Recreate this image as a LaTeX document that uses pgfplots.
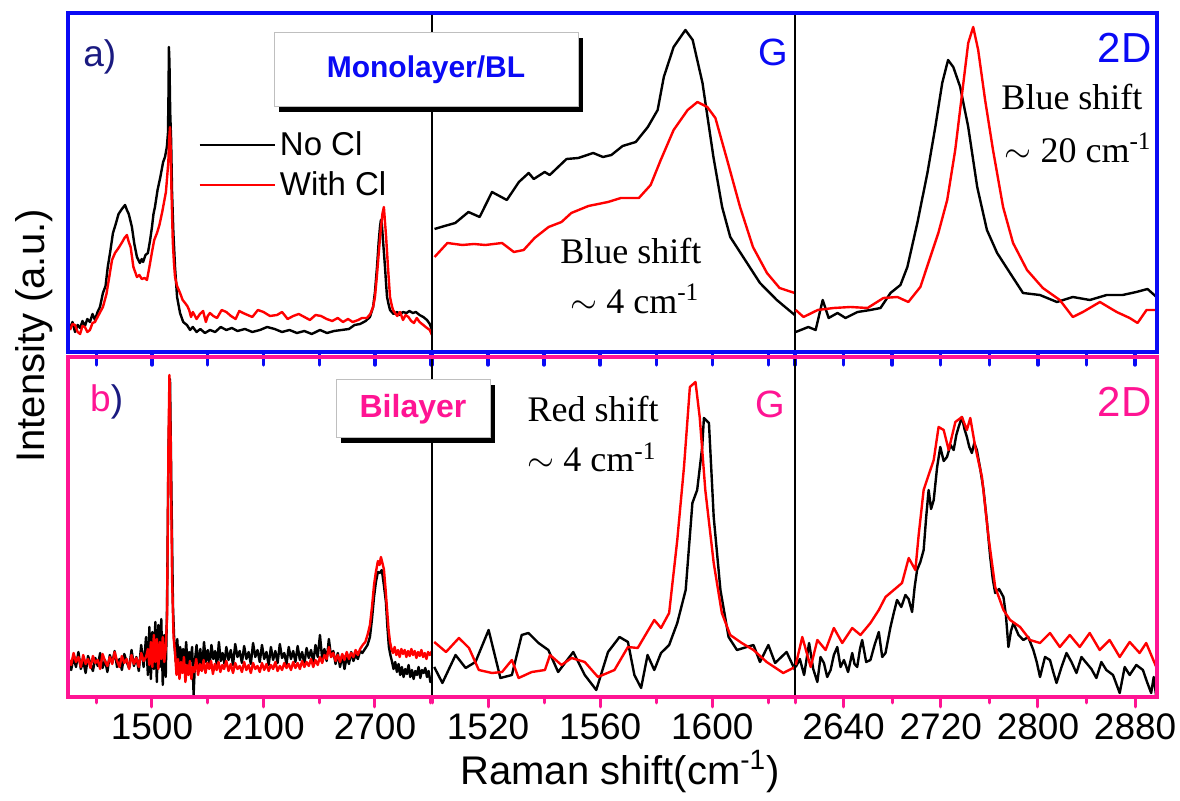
\documentclass[border=0pt]{standalone}
\usepackage{fontspec}
\setmainfont{Liberation Sans}
\newfontfamily\seriffont{Liberation Serif}
\usepackage{pgfplots}
\pgfplotsset{compat=1.18}
\usetikzlibrary{shadows}
\definecolor{frameblue}{HTML}{0A0AF5}
\definecolor{framepink}{HTML}{FF1493}
\definecolor{navy}{HTML}{1A1A80}
\definecolor{specred}{HTML}{FF0000}

\tikzset{ann/.style={inner sep=0pt, font=\seriffont\fontsize{18}{20}\selectfont}}

\pgfplotsset{
  panel/.style={
    scale only axis, height=169.5pt, ymin=0,
    ytick=\empty,
    axis line style={black, line width=0.6pt},
    xtick pos=left, xtick align=outside,
    major tick length=5pt, minor tick length=3pt,
    tick label style={font=\fontsize{18.5}{20}\selectfont},
    /pgf/number format/assume math mode=true,
    /pgf/number format/set thousands separator={},
    scaled x ticks=false,
    every axis plot/.append style={line width=1.2pt, line join=round},
  },
  toprow/.style={panel, ymax=339, xticklabels={},
    x tick style={frameblue, line width=1.7pt, line cap=round},
    major tick length=6.5pt, minor tick length=6.5pt},
  botrow/.style={panel, ymax=340, height=170pt,
    x tick style={framepink, line width=1.5pt, line cap=round}},
  col1/.style={width=182pt, xmin=1048, xmax=3007,
    xtick={1500,2100,2700}, minor xtick={1200,1800,2400,3000}},
  col2/.style={width=181.5pt, xmin=1500, xmax=1629.5,
    xtick={1520,1560,1600}, minor xtick={1500,1540,1580,1620}},
  col3/.style={width=181pt, xmin=2600, xmax=2898,
    xtick={2640,2720,2800,2880}, minor xtick={2600,2680,2760,2840}},
}

\begin{document}
\begin{tikzpicture}
\useasboundingbox (0,0) rectangle (590pt,-400.5pt);

% ---------- top row: monolayer / BL ----------
\begin{axis}[toprow, col1, name=a1, at={(34pt,-6.5pt)}, anchor=north west,
  legend style={draw=none, fill=none, at={(0.341,0.675)}, anchor=north west,
    font=\fontsize{16.5}{19}\selectfont, row sep=2.5pt},
  legend cell align=left,
  legend image code/.code={\draw[#1] (0pt,0pt) -- (37.5pt,0pt);}]
\addplot[black] coordinates {
(1059,24)(1072,30)(1086,20)(1100,27)(1113,24)(1126,31)(1139,26)(1152,33)(1166,30)(1180,38)
(1193,32)(1207,40)(1220,45)(1236,59)(1250,66)(1262,85)(1275,100)(1290,119)(1305,128)(1320,138)
(1338,143)(1355,147)(1365,142)(1375,138)(1392,125)(1405,108)(1419,95)(1435,89)(1445,93)(1452,90)
(1465,97)(1478,99)(1490,112)(1500,125)(1508,138)(1516,145)(1530,162)(1545,175)(1560,190)(1570,195)
(1580,205)(1586,219)(1589,260)(1591,305)(1594,290)(1598,240)(1603,212)(1608,160)(1615,120)(1624,85)
(1635,55)(1651,39)(1668,30)(1688,27)(1705,22)(1720,25)(1740,20)(1760,23)(1785,19)(1812,22)
(1840,20)(1870,25)(1900,22)(1930,24)(1960,21)(2000,23)(2040,20)(2081,22)(2120,25)(2160,23)
(2200,20)(2240,22)(2280,19)(2320,21)(2360,18)(2404,22)(2442,19)(2480,21)(2520,22)(2560,23)
(2590,27)(2620,28)(2650,31)(2673,35)(2690,45)(2700,60)(2711,85)(2720,110)(2727,125)(2732,132)
(2737,128)(2742,115)(2748,100)(2754,85)(2760,68)(2765,55)(2773,48)(2781,42)(2800,38)(2820,40)
(2834,37)(2850,40)(2870,39)(2885,41)(2904,39)(2920,40)(2940,37)(2960,35)(2980,32)(2995,28)(3007,22)
};
\addlegendentry{No Cl}
\addplot[specred] coordinates {
(1059,22)(1072,28)(1086,27)(1100,20)(1113,18)(1126,26)(1139,25)(1152,20)(1166,22)(1180,29)
(1193,30)(1210,36)(1236,45)(1255,58)(1270,75)(1285,92)(1301,99)(1320,104)(1340,110)(1352,114)
(1365,117)(1375,110)(1385,105)(1400,85)(1419,75)(1432,77)(1445,73)(1460,74)(1473,72)(1487,86)
(1500,100)(1512,112)(1527,119)(1540,127)(1555,140)(1565,150)(1575,160)(1588,190)(1593,215)(1597,225)
(1601,200)(1605,160)(1612,110)(1618,90)(1624,75)(1635,66)(1651,59)(1665,52)(1678,49)(1690,46)
(1700,42)(1710,35)(1720,40)(1740,33)(1758,38)(1775,41)(1790,30)(1800,36)(1812,39)(1830,36)
(1850,34)(1875,42)(1900,40)(1925,36)(1950,33)(1970,41)(1990,39)(2015,37)(2040,35)(2070,42)
(2100,40)(2135,36)(2173,37)(2200,40)(2230,33)(2260,36)(2290,38)(2320,35)(2350,32)(2380,37)
(2410,36)(2440,33)(2470,31)(2500,34)(2528,30)(2555,33)(2580,30)(2610,32)(2630,34)(2657,34)
(2675,38)(2690,45)(2700,55)(2710,75)(2720,98)(2730,120)(2740,138)(2748,145)(2754,130)(2760,115)
(2770,85)(2781,55)(2790,47)(2797,42)(2808,39)(2820,36)(2835,40)(2851,32)(2865,37)(2880,35)
(2895,31)(2910,29)(2925,34)(2940,30)(2960,27)(2980,24)(2995,22)(3007,17)
};
\addlegendentry{With Cl}
\node[anchor=west, inner sep=0pt, text=navy, font=\fontsize{18.5}{20}\selectfont]
  at (rel axis cs:0.041,0.87) {a)};
\end{axis}

\begin{axis}[toprow, col2, name=a2, at={(216pt,-6.5pt)}, anchor=north west]
\addplot[black] coordinates {
(1500.9,123)(1504.5,126)(1508.3,129)(1513,140)(1517,135)(1521.4,160)(1526.7,152)(1531,170)(1534.5,179)(1536.3,173)
(1540.2,180)(1542,177)(1548,193)(1552.2,194)(1557.5,199)(1561,195)(1564,197)(1568,206)(1572.7,210)(1577,225)
(1580.5,242)(1582.7,275)(1586.2,305)(1590.4,322)(1593,312)(1596.5,269)(1600.4,195)(1603.5,145)(1606.4,115)(1611.7,92)
(1617,69)(1623,52)(1629.4,37)
};
\addplot[specred] coordinates {
(1500.9,95)(1505.5,109)(1510.8,107)(1515,108)(1519,107)(1525,109)(1529.2,100)(1532.7,102)(1536.6,114)(1541.6,125)
(1546.2,130)(1549.7,139)(1555.8,146)(1562.8,150)(1567.4,154)(1573.8,154)(1578,167)(1581.6,192)(1586.2,222)(1591.2,242)
(1594.7,250)(1598.2,245)(1601.1,234)(1605.3,192)(1609.9,145)(1614.5,105)(1619.5,79)(1624,64)(1629.4,59)
};
\node[anchor=north east, inner sep=0pt, text=frameblue, font=\fontsize{19}{20}\selectfont]
  at (rel axis cs:0.981,0.926) {G};
\node[ann, anchor=base] at (rel axis cs:0.548,0.2625) {Blue shift};
\node[ann, anchor=base] at (rel axis cs:0.559,0.115) {$\sim$ 4 cm\textsuperscript{-1}};
\end{axis}

\begin{axis}[toprow, col3, name=a3, at={(397.5pt,-6.5pt)}, anchor=north west]
\addplot[black] coordinates {
(2600.6,20)(2611,25)(2617,22)(2622.8,52)(2627.7,34)(2635,39)(2641.6,34)(2651.5,40)(2662,42)(2670.4,44)
(2678.6,59)(2686.8,67)(2692.5,85)(2700.7,129)(2709,179)(2715.5,225)(2721.2,269)(2726,292)(2730.3,285)(2736,265)
(2742.6,225)(2750,165)(2758,122)(2766.4,99)(2777,79)(2787.7,59)(2801.6,57)(2815.6,50)(2828.7,55)(2842.7,52)
(2856.6,57)(2869.7,57)(2881,60)(2890.2,63)(2897.6,55)
};
\addplot[specred] coordinates {
(2600.6,42)(2607,35)(2618.7,42)(2631.8,44)(2645.7,45)(2659.7,44)(2672.8,54)(2684.3,55)(2693.3,50)(2703.2,65)
(2711.4,95)(2718,119)(2725.3,152)(2731.9,202)(2737.6,259)(2742.6,309)(2746.7,325)(2750.8,302)(2756.5,252)(2763,202)
(2771.3,145)(2779.5,109)(2791,82)(2804,64)(2818,52)(2828.7,35)(2837,40)(2851,50)(2864.8,40)(2875.5,34)
(2882,29)(2889.4,42)(2897.6,42)
};
\node[anchor=north east, inner sep=0pt, text=frameblue, font=\fontsize{21}{22}\selectfont]
  at (rel axis cs:0.986,0.941) {2D};
\node[ann, anchor=base east] at (rel axis cs:0.961,0.714) {Blue shift};
\node[ann, anchor=base east] at (rel axis cs:0.986,0.560) {$\sim$ 20 cm\textsuperscript{-1}};
\end{axis}

% ---------- bottom row: bilayer ----------
\begin{axis}[botrow, col1, name=b1, at={(34pt,-178.5pt)}, anchor=north west]
\addplot[black] coordinates {
(1052,34)(1065,27)(1078,40)(1091,30)(1104,45)(1117,28)(1130,36)(1143,24)(1156,41)(1169,33)
(1182,26)(1195,39)(1208,31)(1221,44)(1234,29)(1247,37)(1260,25)(1273,42)(1286,34)(1299,46)
(1312,30)(1325,38)(1338,27)(1351,43)(1364,35)(1377,29)(1390,47)(1403,31)(1416,40)(1429,26)
(1442,52)(1455,30)(1468,60)(1478,22)(1486,70)(1494,18)(1502,65)(1510,28)(1518,75)(1526,15)
(1534,72)(1542,30)(1550,78)(1558,12)(1566,62)(1574,20)(1581,90)(1589,250)(1597,318)(1605,200)
(1613,90)(1620,55)(1628,35)(1636,58)(1644,30)(1652,50)(1660,25)(1668,48)(1676,33)(1684,55)
(1692,28)(1700,45)(1708,36)(1716,50)(1724,2)(1732,38)(1740,52)(1750,30)(1760,48)(1770,27)
(1780,55)(1790,35)(1800,47)(1810,31)(1820,52)(1830,38)(1840,46)(1850,30)(1860,55)(1870,36)
(1880,44)(1890,33)(1900,50)(1912,37)(1924,47)(1936,32)(1948,53)(1960,40)(1972,46)(1984,34)
(1996,51)(2008,38)(2020,45)(2032,33)(2044,54)(2056,40)(2068,47)(2080,35)(2092,52)(2104,38)
(2116,45)(2128,32)(2140,50)(2152,37)(2164,46)(2176,34)(2188,53)(2200,39)(2212,44)(2224,33)
(2236,50)(2248,38)(2260,46)(2272,35)(2284,51)(2296,37)(2308,45)(2320,33)(2332,49)(2344,39)
(2356,47)(2368,35)(2380,52)(2392,40)(2404,62)(2416,38)(2428,48)(2440,36)(2452,58)(2464,40)
(2476,46)(2488,33)(2500,44)(2512,30)(2524,42)(2536,28)(2548,40)(2560,33)(2572,45)(2584,36)
(2596,42)(2608,38)(2620,46)(2632,44)(2646,48)(2660,52)(2673,60)(2684,78)(2695,100)(2705,115)
(2716,125)(2726,124)(2737,127)(2748,112)(2759,95)(2767,70)(2775,50)(2783,42)(2791,36)(2800,28)
(2809,35)(2818,25)(2827,33)(2836,22)(2845,30)(2854,20)(2863,28)(2872,23)(2881,32)(2890,20)
(2899,27)(2908,18)(2917,26)(2926,22)(2935,30)(2944,19)(2953,27)(2962,24)(2971,29)(2980,20)
(2989,26)(2998,15)(3007,20)
};
\addplot[specred] coordinates {
(1052,38)(1065,32)(1078,44)(1091,35)(1104,40)(1117,30)(1130,42)(1143,33)(1156,38)(1169,29)
(1182,41)(1195,34)(1208,37)(1221,28)(1234,43)(1247,36)(1260,31)(1273,40)(1286,33)(1299,45)
(1312,36)(1325,30)(1338,41)(1351,34)(1364,38)(1377,28)(1390,42)(1403,33)(1416,39)(1429,30)
(1442,44)(1455,36)(1468,40)(1478,48)(1486,32)(1494,55)(1502,30)(1510,62)(1518,35)(1526,58)
(1534,28)(1542,55)(1550,38)(1558,60)(1566,35)(1574,48)(1581,80)(1589,260)(1594,322)(1600,260)
(1608,120)(1616,60)(1624,45)(1632,22)(1640,38)(1648,18)(1656,35)(1664,24)(1672,40)(1680,15)
(1688,32)(1696,22)(1704,36)(1712,18)(1720,30)(1728,25)(1738,38)(1748,22)(1758,33)(1768,26)
(1778,37)(1788,24)(1798,34)(1808,28)(1818,36)(1828,23)(1838,33)(1848,27)(1858,35)(1868,25)
(1878,32)(1888,28)(1900,36)(1912,26)(1924,33)(1936,24)(1948,34)(1960,28)(1972,31)(1984,25)
(1996,35)(2008,27)(2020,32)(2032,24)(2044,34)(2056,28)(2068,31)(2080,25)(2092,34)(2104,27)
(2116,33)(2128,26)(2140,32)(2152,28)(2164,35)(2176,26)(2188,31)(2200,27)(2212,34)(2224,29)
(2236,33)(2248,27)(2260,35)(2272,29)(2284,34)(2296,28)(2308,36)(2320,30)(2332,35)(2344,31)
(2356,38)(2368,30)(2380,37)(2392,32)(2404,40)(2416,34)(2428,42)(2440,38)(2452,50)(2464,40)
(2476,44)(2488,36)(2500,42)(2512,35)(2524,43)(2536,37)(2548,45)(2560,38)(2572,44)(2584,40)
(2596,47)(2608,42)(2620,48)(2634,52)(2648,55)(2660,62)(2673,72)(2684,90)(2695,112)(2705,125)
(2716,136)(2725,132)(2732,140)(2740,134)(2748,128)(2757,108)(2765,88)(2773,68)(2781,55)(2789,48)
(2797,44)(2806,50)(2815,42)(2824,47)(2833,40)(2842,48)(2851,43)(2860,47)(2869,40)(2878,46)
(2887,41)(2896,48)(2905,42)(2914,46)(2923,39)(2932,45)(2941,41)(2950,47)(2959,40)(2968,44)
(2977,38)(2986,45)(2995,42)(3007,46)
};
\node[anchor=west, inner sep=0pt, font=\fontsize{18.5}{20}\selectfont]
  at (rel axis cs:0.06,0.868) {\textcolor{framepink}{b}\textcolor{navy}{)}};
\end{axis}

\begin{axis}[botrow, col2, name=b2, at={(216pt,-178.5pt)}, anchor=north west]
\addplot[black] coordinates {
(1500.8,30)(1503.7,14)(1508.4,42)(1512,29)(1515.5,35)(1520.2,67)(1524.4,19)(1528.5,22)(1532,62)(1534.4,64)
(1538,54)(1541.5,47)(1545,25)(1550.4,45)(1554.5,22)(1558.6,7)(1562.8,45)(1566.9,60)(1569.9,55)(1572.2,22)
(1574.6,9)(1576.9,42)(1579.3,27)(1581.7,44)(1584.6,52)(1587.5,74)(1590.5,107)(1592.9,194)(1594.6,207)(1596.4,250)
(1597,279)(1598.8,274)(1600.5,180)(1602.9,107)(1605.8,60)(1608.8,47)(1612.3,50)(1614.7,52)(1617,35)(1620,52)
(1622.4,34)(1626.5,45)(1629.5,27)
};
\addplot[specred] coordinates {
(1500.8,55)(1505,45)(1509.6,59)(1513.2,49)(1516.7,27)(1521.4,24)(1525,25)(1528.5,37)(1530.9,19)(1535.6,25)
(1540.3,27)(1542.1,42)(1546.2,32)(1549.8,39)(1554.5,35)(1559.2,20)(1565.1,27)(1569.9,50)(1573.4,49)(1579.3,77)
(1581.7,69)(1584.6,84)(1587.5,157)(1589.9,230)(1592,310)(1594,315)(1595.5,280)(1597.5,207)(1600.5,134)(1603.4,84)
(1606.4,62)(1610.5,54)(1614.7,47)(1619.4,35)(1625.3,24)(1629.5,30)
};
\node[anchor=north east, inner sep=0pt, text=framepink, font=\fontsize{19}{20}\selectfont]
  at (rel axis cs:0.975,0.9) {G};
\node[ann, anchor=base west] at (rel axis cs:0.262,0.809) {Red shift};
\node[ann, anchor=base west] at (rel axis cs:0.262,0.662) {$\sim$ 4 cm\textsuperscript{-1}};
\end{axis}

\begin{axis}[botrow, col3, name=b3, at={(397.5pt,-178.5pt)}, anchor=north west]
\addplot[black] coordinates {
(2600.6,30)(2604,38)(2607.5,22)(2611.6,54)(2615,28)(2618.4,15)(2621,40)(2623.8,34)(2626.5,20)(2629.3,27)
(2632,42)(2634.8,50)(2637.5,30)(2640.3,37)(2643.7,25)(2647.1,44)(2649,33)(2651.2,30)(2653.5,48)(2655.3,57)
(2658.6,35)(2662.1,37)(2665.5,52)(2669,65)(2671.8,40)(2674.5,44)(2678.6,70)(2681.5,85)(2684,97)(2687.5,90)
(2690.9,102)(2693.5,98)(2696.4,85)(2698.5,110)(2700.5,127)(2703.2,135)(2705.9,147)(2708,180)(2710,207)(2712,188)
(2714.2,197)(2717,230)(2719.6,250)(2722.4,236)(2725.1,240)(2728,252)(2730.6,247)(2732.8,262)(2734.7,270)(2737.4,280)
(2739.5,268)(2741.5,260)(2743.5,250)(2745.6,244)(2747.6,254)(2749.7,247)(2752.5,228)(2755.2,207)(2758,175)(2760.7,140)
(2762.8,118)(2764.8,104)(2768,108)(2771.6,100)(2773.6,82)(2775.7,50)(2777.8,66)(2779.8,74)(2784,62)(2788,57)
(2792,60)(2796.2,47)(2799,35)(2801.7,20)(2805.8,40)(2809.9,37)(2812.6,25)(2815.3,14)(2819.4,30)(2823.5,44)
(2827.6,35)(2831.7,24)(2835.8,40)(2839.9,34)(2844,28)(2848.1,19)(2852.2,35)(2856.3,27)(2861.8,22)(2867.3,4)
(2871.4,30)(2875.5,22)(2881,32)(2886.4,27)(2889.8,15)(2893.2,4)(2895.3,20)(2897.4,0)
};
\addplot[specred] coordinates {
(2600.6,32)(2606,60)(2612.9,30)(2618.4,57)(2625.2,47)(2632,69)(2638.9,54)(2647.1,69)(2653.9,62)(2662.1,74)
(2669,87)(2674.5,100)(2681.3,107)(2688.1,114)(2693.6,139)(2699.1,127)(2701.8,162)(2705.9,207)(2710,222)(2714.2,237)
(2718.2,270)(2722.4,267)(2726.5,247)(2732,275)(2737.4,280)(2741.5,267)(2744.3,279)(2748.4,250)(2753.9,220)(2759.3,160)
(2764.8,110)(2771.6,87)(2777.1,77)(2785.3,70)(2793.5,57)(2801.7,54)(2809.9,64)(2818,50)(2826.2,62)(2834.4,50)
(2842.6,64)(2850.8,47)(2859,57)(2867.3,40)(2875.5,55)(2883.7,44)(2889.1,54)(2897.4,30)
};
\node[anchor=north east, inner sep=0pt, text=framepink, font=\fontsize{21}{22}\selectfont]
  at (rel axis cs:0.986,0.912) {2D};
\end{axis}

% row frames
\draw[frameblue, line width=2pt] (a1.south west) rectangle (a3.north east);
\draw[framepink, line width=2pt] (b1.south west) rectangle (b3.north east);

% title boxes
\node[draw=gray!50, fill=white, line width=0.5pt, minimum width=152pt, minimum height=37pt,
  drop shadow={shadow xshift=2.5pt, shadow yshift=-2.5pt, opacity=1, fill=black},
  text=frameblue, font=\fontsize{15}{18}\selectfont\bfseries] at (213pt,-35pt) {Monolayer/BL};
\node[draw=gray!50, fill=white, line width=0.5pt, minimum width=77pt, minimum height=29pt,
  drop shadow={shadow xshift=2.5pt, shadow yshift=-2.5pt, opacity=1, fill=black},
  text=framepink, font=\fontsize{16}{18}\selectfont\bfseries] at (206.5pt,-204.5pt) {Bilayer};

% axis titles
\node[rotate=90, anchor=base, font=\fontsize{20}{24}\selectfont] at (22pt,-168pt) {Intensity (a.u.)};
\node[anchor=base, font=\fontsize{20}{24}\selectfont] at (310pt,-392.5pt) {Raman shift(cm\textsuperscript{-1})};
\end{tikzpicture}
\end{document}
